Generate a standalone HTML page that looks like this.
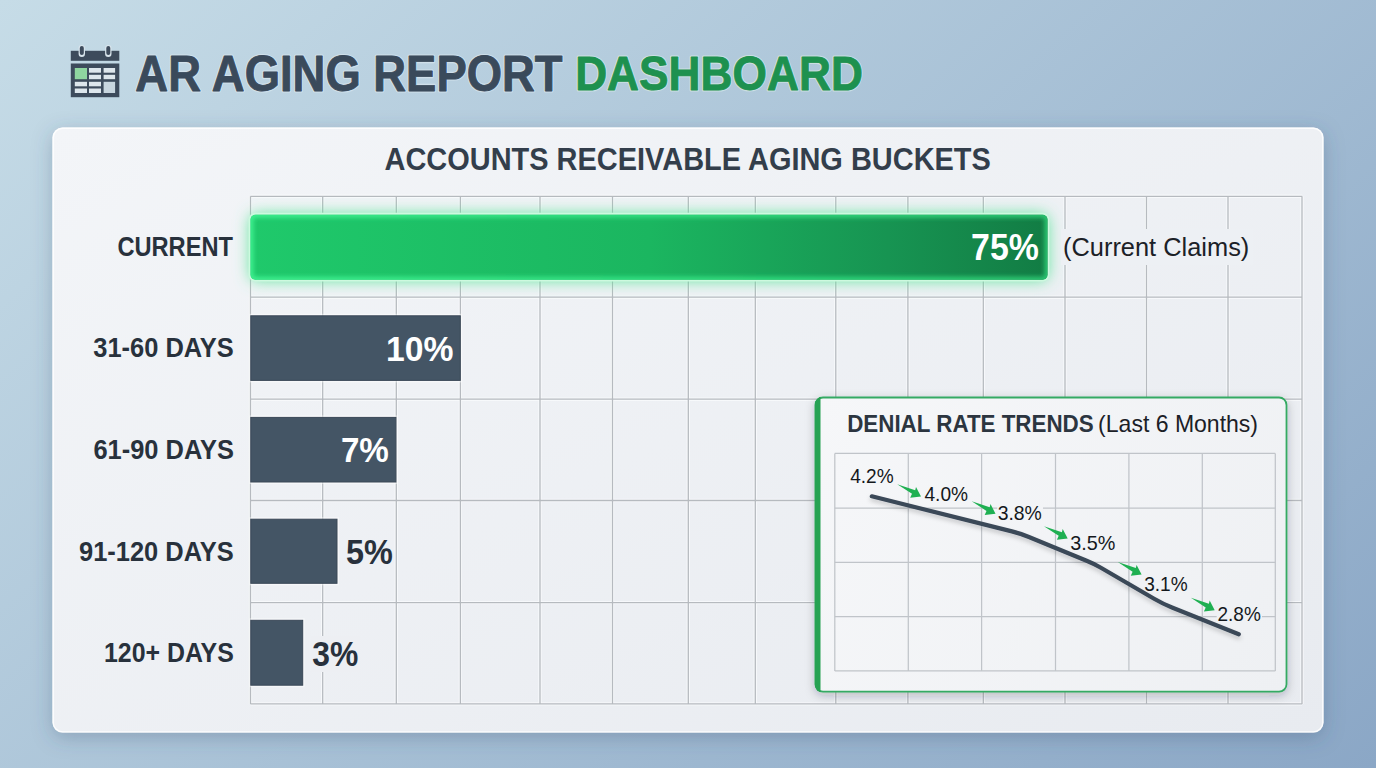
<!DOCTYPE html>
<html><head><meta charset="utf-8"><style>
html,body{margin:0;padding:0;width:1376px;height:768px;overflow:hidden;}
svg{display:block;}
text{font-family:"Liberation Sans",sans-serif;}
</style></head><body>
<svg width="1376" height="768" viewBox="0 0 1376 768">
<defs>
<linearGradient id="bg" gradientUnits="userSpaceOnUse" x1="0" y1="0" x2="994" y2="1108"><stop offset="0" stop-color="#c6dce7"/><stop offset="1" stop-color="#8ba7c6"/></linearGradient>
<linearGradient id="card" x1="0" y1="0" x2="1" y2="1"><stop offset="0" stop-color="#f3f5f8"/><stop offset="1" stop-color="#e8ebf0"/></linearGradient>
<linearGradient id="gbar" x1="0" y1="0" x2="1" y2="0"><stop offset="0" stop-color="#1fc96b"/><stop offset="0.5" stop-color="#1bb660"/><stop offset="0.8" stop-color="#179452"/><stop offset="1" stop-color="#127c44"/></linearGradient>
<filter id="cardsh" x="-5%" y="-8%" width="110%" height="120%"><feDropShadow dx="0" dy="5" stdDeviation="10" flood-color="#3a5070" flood-opacity="0.3"/></filter>
<filter id="glow" x="-10%" y="-60%" width="120%" height="220%"><feGaussianBlur in="SourceAlpha" stdDeviation="8" result="b"/><feFlood flood-color="#52e494" flood-opacity="1"/><feComposite in2="b" operator="in"/></filter>
<linearGradient id="gedge" x1="0" y1="0" x2="1" y2="0"><stop offset="0" stop-color="#3ef08f"/><stop offset="0.6" stop-color="#30dc7e"/><stop offset="1" stop-color="#2bc772"/></linearGradient>
<filter id="lsh" x="-10%" y="-30%" width="120%" height="160%"><feDropShadow dx="0" dy="3" stdDeviation="2" flood-color="#000" flood-opacity="0.18"/></filter>
<filter id="psh" x="-8%" y="-10%" width="116%" height="125%"><feDropShadow dx="0" dy="3" stdDeviation="5" flood-color="#1a2535" flood-opacity="0.25"/></filter>
<linearGradient id="pfill" gradientUnits="userSpaceOnUse" x1="815" y1="397" x2="1287" y2="692"><stop offset="0" stop-color="#f6f7f9"/><stop offset="1" stop-color="#eef0f3"/></linearGradient>
</defs>
<rect width="1376" height="768" fill="url(#bg)"/>
<g>
<rect x="70.8" y="50.8" width="48.5" height="10" fill="#3d4b5c"/>
<rect x="70.8" y="63.5" width="48.5" height="33.7" fill="#3d4b5c"/>
<rect x="78.6" y="45" width="6.4" height="12" rx="3.2" fill="#d8e4ec"/>
<rect x="79.8" y="46" width="4" height="9" rx="2" fill="#3d4b5c"/>
<rect x="105.1" y="45" width="6.4" height="12" rx="3.2" fill="#d8e4ec"/>
<rect x="106.3" y="46" width="4" height="9" rx="2" fill="#3d4b5c"/>
<rect x="74.8" y="68" width="12.2" height="11.2" fill="#8fd6a0"/>
<rect x="89" y="68" width="12" height="4.7" fill="#dde6ec"/>
<rect x="103.6" y="68" width="11.5" height="4.7" fill="#dde6ec"/>
<rect x="89" y="74.8" width="12" height="4.4" fill="#dde6ec"/>
<rect x="103.6" y="74.8" width="11.5" height="4.4" fill="#dde6ec"/>
<rect x="74.8" y="81.8" width="12.2" height="4.5" fill="#dde6ec"/>
<rect x="89" y="81.8" width="12" height="4.5" fill="#dde6ec"/>
<rect x="74.8" y="88.5" width="12.2" height="4.5" fill="#dde6ec"/>
<rect x="89" y="88.5" width="12" height="4.5" fill="#dde6ec"/>
<rect x="103.6" y="81.8" width="11.5" height="11.2" fill="#c8d6df"/>
</g>
<text x="135.37" y="90.84" font-size="49.08" font-weight="bold" textLength="427.18" lengthAdjust="spacingAndGlyphs" fill="#e2edf3" stroke="#e2edf3" stroke-width="3.2" stroke-linejoin="round" opacity="0.55">AR AGING REPORT</text><text x="135.37" y="90.84" font-size="49.08" font-weight="bold" textLength="427.18" lengthAdjust="spacingAndGlyphs" fill="#3a4a5b" stroke="#3a4a5b" stroke-width="0.9" stroke-linejoin="round">AR AGING REPORT</text>
<text x="575.16" y="89.91" font-size="48.83" font-weight="bold" textLength="287.72" lengthAdjust="spacingAndGlyphs" fill="#e2f3ea" stroke="#e2f3ea" stroke-width="3.2" stroke-linejoin="round" opacity="0.55">DASHBOARD</text><text x="575.16" y="89.91" font-size="48.83" font-weight="bold" textLength="287.72" lengthAdjust="spacingAndGlyphs" fill="#1e914f" stroke="#1e914f" stroke-width="0.9" stroke-linejoin="round">DASHBOARD</text>
<rect x="52.5" y="127.6" width="1271" height="605" rx="10" fill="url(#card)" filter="url(#cardsh)"/>
<rect x="53.2" y="128.3" width="1269.6" height="603.6" rx="9.5" fill="none" stroke="#ffffff" stroke-opacity="0.85" stroke-width="1.4"/>
<text x="384.51" y="170.10" font-size="32.26" font-weight="bold" textLength="606.37" lengthAdjust="spacingAndGlyphs" fill="#333e4b">ACCOUNTS RECEIVABLE AGING BUCKETS</text>
<line x1="250.5" y1="196.3" x2="250.5" y2="703.9" stroke="#fbfcfd" stroke-opacity="0.7" stroke-width="3.4"/>
<line x1="322.7" y1="196.3" x2="322.7" y2="703.9" stroke="#fbfcfd" stroke-opacity="0.7" stroke-width="3.4"/>
<line x1="396.3" y1="196.3" x2="396.3" y2="703.9" stroke="#fbfcfd" stroke-opacity="0.7" stroke-width="3.4"/>
<line x1="460.4" y1="196.3" x2="460.4" y2="703.9" stroke="#fbfcfd" stroke-opacity="0.7" stroke-width="3.4"/>
<line x1="540.0" y1="196.3" x2="540.0" y2="703.9" stroke="#fbfcfd" stroke-opacity="0.7" stroke-width="3.4"/>
<line x1="612.5" y1="196.3" x2="612.5" y2="703.9" stroke="#fbfcfd" stroke-opacity="0.7" stroke-width="3.4"/>
<line x1="688.3" y1="196.3" x2="688.3" y2="703.9" stroke="#fbfcfd" stroke-opacity="0.7" stroke-width="3.4"/>
<line x1="755.3" y1="196.3" x2="755.3" y2="703.9" stroke="#fbfcfd" stroke-opacity="0.7" stroke-width="3.4"/>
<line x1="835.8" y1="196.3" x2="835.8" y2="703.9" stroke="#fbfcfd" stroke-opacity="0.7" stroke-width="3.4"/>
<line x1="907.9" y1="196.3" x2="907.9" y2="703.9" stroke="#fbfcfd" stroke-opacity="0.7" stroke-width="3.4"/>
<line x1="983.3" y1="196.3" x2="983.3" y2="703.9" stroke="#fbfcfd" stroke-opacity="0.7" stroke-width="3.4"/>
<line x1="1065.0" y1="196.3" x2="1065.0" y2="703.9" stroke="#fbfcfd" stroke-opacity="0.7" stroke-width="3.4"/>
<line x1="1146.5" y1="196.3" x2="1146.5" y2="703.9" stroke="#fbfcfd" stroke-opacity="0.7" stroke-width="3.4"/>
<line x1="1228.0" y1="196.3" x2="1228.0" y2="703.9" stroke="#fbfcfd" stroke-opacity="0.7" stroke-width="3.4"/>
<line x1="1302.0" y1="196.3" x2="1302.0" y2="703.9" stroke="#fbfcfd" stroke-opacity="0.7" stroke-width="3.4"/>
<line x1="250.5" y1="196.3" x2="1302.0" y2="196.3" stroke="#fbfcfd" stroke-opacity="0.7" stroke-width="3.4"/>
<line x1="250.5" y1="297.2" x2="1302.0" y2="297.2" stroke="#fbfcfd" stroke-opacity="0.7" stroke-width="3.4"/>
<line x1="250.5" y1="399.2" x2="1302.0" y2="399.2" stroke="#fbfcfd" stroke-opacity="0.7" stroke-width="3.4"/>
<line x1="250.5" y1="500.5" x2="1302.0" y2="500.5" stroke="#fbfcfd" stroke-opacity="0.7" stroke-width="3.4"/>
<line x1="250.5" y1="602.6" x2="1302.0" y2="602.6" stroke="#fbfcfd" stroke-opacity="0.7" stroke-width="3.4"/>
<line x1="250.5" y1="703.9" x2="1302.0" y2="703.9" stroke="#fbfcfd" stroke-opacity="0.7" stroke-width="3.4"/>
<line x1="250.5" y1="196.3" x2="250.5" y2="703.9" stroke="#b6babf" stroke-width="1.3"/>
<line x1="322.7" y1="196.3" x2="322.7" y2="703.9" stroke="#b6babf" stroke-width="1.3"/>
<line x1="396.3" y1="196.3" x2="396.3" y2="703.9" stroke="#b6babf" stroke-width="1.3"/>
<line x1="460.4" y1="196.3" x2="460.4" y2="703.9" stroke="#b6babf" stroke-width="1.3"/>
<line x1="540.0" y1="196.3" x2="540.0" y2="703.9" stroke="#b6babf" stroke-width="1.3"/>
<line x1="612.5" y1="196.3" x2="612.5" y2="703.9" stroke="#b6babf" stroke-width="1.3"/>
<line x1="688.3" y1="196.3" x2="688.3" y2="703.9" stroke="#b6babf" stroke-width="1.3"/>
<line x1="755.3" y1="196.3" x2="755.3" y2="703.9" stroke="#b6babf" stroke-width="1.3"/>
<line x1="835.8" y1="196.3" x2="835.8" y2="703.9" stroke="#b6babf" stroke-width="1.3"/>
<line x1="907.9" y1="196.3" x2="907.9" y2="703.9" stroke="#b6babf" stroke-width="1.3"/>
<line x1="983.3" y1="196.3" x2="983.3" y2="703.9" stroke="#b6babf" stroke-width="1.3"/>
<line x1="1065.0" y1="196.3" x2="1065.0" y2="703.9" stroke="#b6babf" stroke-width="1.3"/>
<line x1="1146.5" y1="196.3" x2="1146.5" y2="703.9" stroke="#b6babf" stroke-width="1.3"/>
<line x1="1228.0" y1="196.3" x2="1228.0" y2="703.9" stroke="#b6babf" stroke-width="1.3"/>
<line x1="1302.0" y1="196.3" x2="1302.0" y2="703.9" stroke="#b6babf" stroke-width="1.3"/>
<line x1="250.5" y1="196.3" x2="1302.0" y2="196.3" stroke="#b6babf" stroke-width="1.3"/>
<line x1="250.5" y1="297.2" x2="1302.0" y2="297.2" stroke="#b6babf" stroke-width="1.3"/>
<line x1="250.5" y1="399.2" x2="1302.0" y2="399.2" stroke="#b6babf" stroke-width="1.3"/>
<line x1="250.5" y1="500.5" x2="1302.0" y2="500.5" stroke="#b6babf" stroke-width="1.3"/>
<line x1="250.5" y1="602.6" x2="1302.0" y2="602.6" stroke="#b6babf" stroke-width="1.3"/>
<line x1="250.5" y1="703.9" x2="1302.0" y2="703.9" stroke="#b6babf" stroke-width="1.3"/>
<clipPath id="gclip"><rect x="250.5" y="214.7" width="797" height="65" rx="5"/></clipPath>
<filter id="blur2" x="-5%" y="-30%" width="110%" height="160%"><feGaussianBlur stdDeviation="2"/></filter>
<rect x="250.5" y="214.7" width="797" height="65" rx="5" fill="#58e89a" filter="url(#glow)"/>
<rect x="248.6" y="212.8" width="800.8" height="68.8" rx="6.8" fill="#cdf9df"/>
<rect x="250.5" y="214.7" width="797" height="65" rx="5" fill="url(#gbar)"/>
<g clip-path="url(#gclip)"><rect x="250.5" y="214.7" width="797" height="65" rx="5" fill="none" stroke="url(#gedge)" stroke-width="6" filter="url(#blur2)"/></g>
<rect x="250.3" y="314.8" width="211.0" height="66.59999999999997" fill="none" stroke="#ffffff" stroke-opacity="0.45" stroke-width="2"/>
<rect x="250.8" y="315.8" width="209.5" height="64.59999999999997" fill="#445565" stroke="#3a4857" stroke-width="1"/>
<rect x="250.3" y="416.4" width="146.59999999999997" height="66.60000000000002" fill="none" stroke="#ffffff" stroke-opacity="0.45" stroke-width="2"/>
<rect x="250.8" y="417.4" width="145.09999999999997" height="64.60000000000002" fill="#445565" stroke="#3a4857" stroke-width="1"/>
<rect x="250.3" y="518.2" width="87.69999999999999" height="66.09999999999991" fill="none" stroke="#ffffff" stroke-opacity="0.45" stroke-width="2"/>
<rect x="250.8" y="519.2" width="86.19999999999999" height="64.09999999999991" fill="#445565" stroke="#3a4857" stroke-width="1"/>
<rect x="250.3" y="619.3" width="53.39999999999998" height="66.90000000000009" fill="none" stroke="#ffffff" stroke-opacity="0.45" stroke-width="2"/>
<rect x="250.8" y="620.3" width="51.89999999999998" height="64.90000000000009" fill="#445565" stroke="#3a4857" stroke-width="1"/>
<rect x="311" y="636" width="49" height="36" fill="#edeff3"/>
<text x="117.40" y="255.97" font-size="28.40" font-weight="bold" textLength="115.60" lengthAdjust="spacingAndGlyphs" fill="#28313c">CURRENT</text>
<text x="93.23" y="357.26" font-size="28.40" font-weight="bold" textLength="140.62" lengthAdjust="spacingAndGlyphs" fill="#28313c">31-60 DAYS</text>
<text x="93.45" y="459.13" font-size="28.40" font-weight="bold" textLength="140.41" lengthAdjust="spacingAndGlyphs" fill="#28313c">61-90 DAYS</text>
<text x="79.01" y="560.58" font-size="28.40" font-weight="bold" textLength="154.66" lengthAdjust="spacingAndGlyphs" fill="#28313c">91-120 DAYS</text>
<text x="103.98" y="662.00" font-size="28.40" font-weight="bold" textLength="129.82" lengthAdjust="spacingAndGlyphs" fill="#28313c">120+ DAYS</text>
<text x="971.10" y="260.11" font-size="37.06" font-weight="bold" textLength="67.76" lengthAdjust="spacingAndGlyphs" fill="#ffffff">75%</text>
<text x="385.99" y="361.00" font-size="35.60" font-weight="bold" textLength="67.36" lengthAdjust="spacingAndGlyphs" fill="#ffffff">10%</text>
<text x="340.91" y="462.39" font-size="35.60" font-weight="bold" textLength="47.98" lengthAdjust="spacingAndGlyphs" fill="#ffffff">7%</text>
<text x="345.99" y="563.68" font-size="35.60" font-weight="bold" textLength="46.82" lengthAdjust="spacingAndGlyphs" fill="#28313c">5%</text>
<text x="312.36" y="666.16" font-size="35.60" font-weight="bold" textLength="45.99" lengthAdjust="spacingAndGlyphs" fill="#28313c">3%</text>
<rect x="1061" y="229" width="192" height="36" fill="#edf0f4"/>
<text x="1063.04" y="256.49" font-size="25.20" textLength="186.26" lengthAdjust="spacingAndGlyphs" fill="#1b2127">(Current Claims)</text>
<rect x="815.5" y="397.5" width="471.0" height="294.2" rx="7.5" fill="url(#pfill)" stroke="#35aa64" stroke-width="1.8" filter="url(#psh)"/>
<clipPath id="pclip"><rect x="814.6" y="396.6" width="472.8" height="296" rx="8.4"/></clipPath>
<rect x="814.6" y="396.6" width="5.9" height="296" fill="#26a253" clip-path="url(#pclip)"/>
<text x="847.15" y="432.16" font-size="23.14" font-weight="bold" textLength="246.54" lengthAdjust="spacingAndGlyphs" fill="#2c3540">DENIAL RATE TRENDS</text>
<text x="1098.12" y="431.78" font-size="23.20" textLength="159.92" lengthAdjust="spacingAndGlyphs" fill="#1b2026">(Last 6 Months)</text>
<line x1="834.8" y1="453.4" x2="834.8" y2="670.9" stroke="#c0c4c9" stroke-width="1.25"/>
<line x1="908.3" y1="453.4" x2="908.3" y2="670.9" stroke="#c0c4c9" stroke-width="1.25"/>
<line x1="981.6" y1="453.4" x2="981.6" y2="670.9" stroke="#c0c4c9" stroke-width="1.25"/>
<line x1="1055.5" y1="453.4" x2="1055.5" y2="670.9" stroke="#c0c4c9" stroke-width="1.25"/>
<line x1="1128.9" y1="453.4" x2="1128.9" y2="670.9" stroke="#c0c4c9" stroke-width="1.25"/>
<line x1="1202.3" y1="453.4" x2="1202.3" y2="670.9" stroke="#c0c4c9" stroke-width="1.25"/>
<line x1="1275.3" y1="453.4" x2="1275.3" y2="670.9" stroke="#c0c4c9" stroke-width="1.25"/>
<line x1="834.8" y1="453.4" x2="1275.3" y2="453.4" stroke="#c0c4c9" stroke-width="1.25"/>
<line x1="834.8" y1="508.1" x2="1275.3" y2="508.1" stroke="#c0c4c9" stroke-width="1.25"/>
<line x1="834.8" y1="562.4" x2="1275.3" y2="562.4" stroke="#c0c4c9" stroke-width="1.25"/>
<line x1="834.8" y1="616.6" x2="1275.3" y2="616.6" stroke="#c0c4c9" stroke-width="1.25"/>
<line x1="834.8" y1="670.9" x2="1275.3" y2="670.9" stroke="#c0c4c9" stroke-width="1.25"/>
<rect x="848.9" y="465.3" width="45.8" height="20.7" fill="url(#pfill)"/>
<rect x="923.1" y="483.9" width="45.8" height="20.2" fill="url(#pfill)"/>
<rect x="997.2" y="503.4" width="45.8" height="19.9" fill="url(#pfill)"/>
<rect x="1069.7" y="533.0" width="46.1" height="19.6" fill="url(#pfill)"/>
<rect x="1143.5" y="574.2" width="45.5" height="20.4" fill="url(#pfill)"/>
<rect x="1216.7" y="603.5" width="45.3" height="20.2" fill="url(#pfill)"/>
<path d="M871.8,496.3 L1011.9,531.4 Q1020.6,533.6 1028.9,537.0 L1086.6,560.8 Q1094.0,563.8 1100.9,567.8 L1154.1,598.8 Q1162.7,603.8 1172.0,607.5 L1238.8,634.3" fill="none" stroke="#3b4858" stroke-width="4.2" stroke-linecap="round" stroke-linejoin="round" filter="url(#lsh)"/>
<text x="850.16" y="483.00" font-size="20.40" textLength="43.50" lengthAdjust="spacingAndGlyphs" fill="#14181c">4.2%</text>
<text x="924.45" y="500.87" font-size="20.40" textLength="43.58" lengthAdjust="spacingAndGlyphs" fill="#14181c">4.0%</text>
<text x="997.63" y="520.13" font-size="20.40" textLength="44.20" lengthAdjust="spacingAndGlyphs" fill="#14181c">3.8%</text>
<text x="1070.15" y="549.90" font-size="20.40" textLength="45.15" lengthAdjust="spacingAndGlyphs" fill="#14181c">3.5%</text>
<text x="1144.20" y="591.26" font-size="20.40" textLength="43.51" lengthAdjust="spacingAndGlyphs" fill="#14181c">3.1%</text>
<text x="1217.50" y="620.87" font-size="20.40" textLength="43.29" lengthAdjust="spacingAndGlyphs" fill="#14181c">2.8%</text>
<path transform="translate(921.0,496.6)" d="M-23.8,-12.4 L-5.8,-6.4 L-5.0,-9.6 L0,0 L-10.8,1.2 L-9.0,-2.8 Z" fill="#1fb052"/>
<path transform="translate(995.5,513.7)" d="M-23.8,-12.4 L-5.8,-6.4 L-5.0,-9.6 L0,0 L-10.8,1.2 L-9.0,-2.8 Z" fill="#1fb052"/>
<path transform="translate(1067.7,538.6)" d="M-23.8,-12.4 L-5.8,-6.4 L-5.0,-9.6 L0,0 L-10.8,1.2 L-9.0,-2.8 Z" fill="#1fb052"/>
<path transform="translate(1141.6,574.5)" d="M-23.8,-12.4 L-5.8,-6.4 L-5.0,-9.6 L0,0 L-10.8,1.2 L-9.0,-2.8 Z" fill="#1fb052"/>
<path transform="translate(1214.7,610.2)" d="M-23.8,-12.4 L-5.8,-6.4 L-5.0,-9.6 L0,0 L-10.8,1.2 L-9.0,-2.8 Z" fill="#1fb052"/>
</svg>
</body></html>
